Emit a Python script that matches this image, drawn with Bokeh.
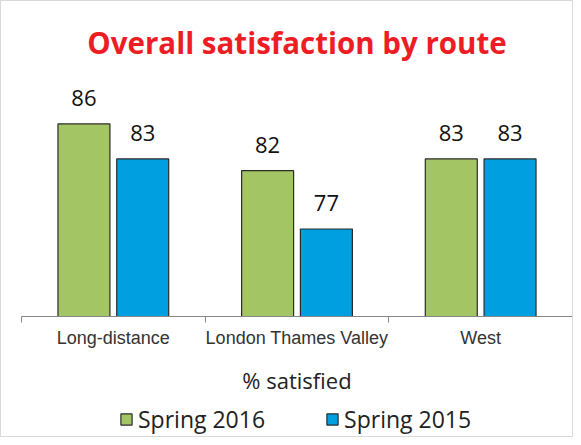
from bokeh.plotting import figure
from bokeh.layouts import column
from bokeh.models import Range1d, FixedTicker, Legend, LegendItem, ColumnDataSource
from bokeh.transform import dodge
from bokeh.core.properties import value
from bokeh.embed import file_html
from bokeh.resources import INLINE

routes = ["Long-distance", "London Thames Valley", "West"]
spring_2016 = [86, 82, 83]
spring_2015 = [83, 77, 83]
series_names = ["Spring 2016", "Spring 2015"]
title_text = "Overall satisfaction by route"
axis_title = "% satisfied"

GREEN = "#A4C563"
BLUE = "#00A0E0"
OUTLINE = "#2b2b2b"

centers = [i + 0.5 for i in range(len(routes))]
bounds = list(range(len(routes) + 1))

src = ColumnDataSource(dict(
    x=centers,
    s16=spring_2016, s15=spring_2015,
    l16=[str(v) for v in spring_2016], l15=[str(v) for v in spring_2015],
))

TOP, FRAME_H, BOTTOM = 63, 252, 87
Y0 = 69.5
PX_PER_UNIT = 11.67

p = figure(width=571, height=TOP + FRAME_H + BOTTOM,
           x_range=Range1d(0, len(routes)), y_range=Range1d(Y0, Y0 + FRAME_H / PX_PER_UNIT),
           output_backend="svg", toolbar_location=None,
           min_border_left=20, min_border_right=0, min_border_top=TOP, min_border_bottom=BOTTOM)

off = 0.16
bw = 0.283
r16 = p.vbar(x=dodge("x", -off), top="s16", bottom=0, width=bw, source=src,
             fill_color=GREEN, line_color=OUTLINE, line_width=1.2)
r15 = p.vbar(x=dodge("x", off), top="s15", bottom=0, width=bw, source=src,
             fill_color=BLUE, line_color=OUTLINE, line_width=1.2)

for col, lab, d in (("s16", "l16", -off), ("s15", "l15", off)):
    p.text(x=dodge("x", d), y=col, text=lab, source=src, y_offset=-26,
           text_align="center", text_baseline="alphabetic",
           text_font=value("Open Sans"), text_font_size="22px", text_color="#111111")

p.title.text = title_text
p.title.align = "center"
p.title.text_font = "Open Sans"
p.title.text_font_size = "29.5px"
p.title.text_font_style = "bold"
p.title.text_color = "#EE1C25"
p.title.standoff = 4

p.yaxis.visible = False
p.grid.visible = False
p.outline_line_color = None

ax = p.xaxis[0]
ax.ticker = FixedTicker(ticks=centers, minor_ticks=bounds)
ax.major_label_overrides = {c: r for c, r in zip(centers, routes)}
ax.major_tick_line_color = None
ax.minor_tick_line_color = "#868686"
ax.minor_tick_in = 0
ax.minor_tick_out = 6
ax.axis_line_color = "#868686"
ax.major_label_text_font = "Liberation Sans"
ax.major_label_text_font_size = "18px"
ax.major_label_text_color = "#333333"
ax.major_label_standoff = 5
ax.axis_label = axis_title
ax.axis_label_text_font = "Open Sans"
ax.axis_label_text_font_size = "22px"
ax.axis_label_text_font_style = "normal"
ax.axis_label_text_color = "#222222"
ax.axis_label_standoff = 14

# legend strip below the chart
LEG_H = 33
lp = figure(width=571, height=LEG_H, x_range=Range1d(0, 1), y_range=Range1d(0, 1),
            output_backend="svg", toolbar_location=None,
            x_axis_location=None, y_axis_location=None,
            min_border_left=0, min_border_right=0, min_border_top=0, min_border_bottom=0)
lp.grid.visible = False
lp.outline_line_color = None
k16 = lp.vbar(x=dodge("x", -off), top="s16", bottom=0, width=bw, source=src,
              fill_color=GREEN, line_color=OUTLINE, line_width=1.2, visible=False)
k15 = lp.vbar(x=dodge("x", off), top="s15", bottom=0, width=bw, source=src,
              fill_color=BLUE, line_color=OUTLINE, line_width=1.2, visible=False)

legend = Legend(items=[LegendItem(label=series_names[0], renderers=[k16]),
                       LegendItem(label=series_names[1], renderers=[k15])],
                orientation="horizontal", location=(98, 1),
                label_text_font="Open Sans", label_text_font_size="23px",
                label_text_color="#222222", inactive_fill_alpha=0,
                glyph_width=14, glyph_height=14, label_standoff=5, spacing=60,
                border_line_color=None, background_fill_alpha=0, margin=0, padding=0)
lp.add_layout(legend)

layout = column(p, lp, spacing=0, styles={"border": "1px solid #D9D9D9"})

open("out.html", "w").write(file_html(layout, INLINE))
